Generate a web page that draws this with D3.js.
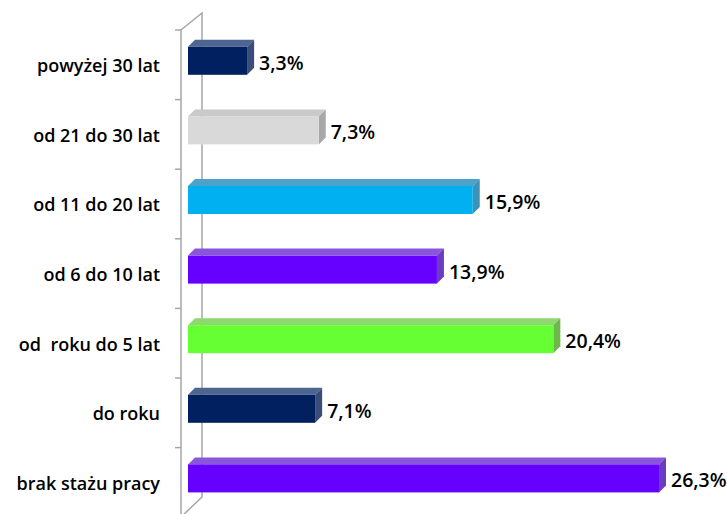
<!DOCTYPE html>
<html>
<head>
<meta charset="utf-8">
<script src="https://cdn.jsdelivr.net/npm/d3@7"></script>
<style>
  body { margin: 0; background: #fff; }
  svg { display: block; }
  .cat { font-family: "Open Sans", sans-serif; font-weight: 600; font-size: 18px; fill: #000; white-space: pre; }
  .val { font-family: "Open Sans", sans-serif; font-weight: 600; font-size: 19.5px; fill: #000; }
</style>
</head>
<body>
<div id="chart"></div>
<script>
// categories, top to bottom
const categories = ["powyżej 30 lat", "od 21 do 30 lat", "od 11 do 20 lat", "od 6 do 10 lat",
                    "od  roku do 5 lat", "do roku", "brak stażu pracy"];
const values = [3.3, 7.3, 15.9, 13.9, 20.4, 7.1, 26.3];
const valueLabels = ["3,3%", "7,3%", "15,9%", "13,9%", "20,4%", "7,1%", "26,3%"];
// front / top / side shades for each bar
const frontColors = ["#002060", "#d9d9d9", "#00b0f0", "#6600ff", "#66ff33", "#002060", "#6600ff"];
const topColors   = ["#4d6590", "#cacaca", "#4ba3c9", "#8a55dd", "#8ed870", "#4d6590", "#8a55dd"];
const sideColors  = ["#3a4d78", "#a8a8a8", "#3c92b8", "#6a3cc4", "#6cb84c", "#3a4d78", "#6a3cc4"];

const W = 727, H = 514;
const depthX = 7, depthY = 7;

const svg = d3.select("#chart").append("svg")
    .attr("width", W).attr("height", H);

const y = d3.scaleBand()
    .domain(categories)
    .range([30, 517.2]);

const x = d3.scaleLinear()
    .domain([0, 26.3])
    .range([188, 659]);

// 3D wall (vertical axis)
const wallX = 181, backX = 202;
const wall = svg.append("g").attr("stroke", "#a6a6a6").attr("stroke-width", 1.5).attr("fill", "none");
wall.append("path").attr("d", `M${wallX},30 L${backX},13 L${backX},497 L${wallX},${H + 3}`);
wall.append("line").attr("x1", wallX).attr("x2", wallX).attr("y1", 30).attr("y2", H + 3);
wall.selectAll("line.tick")
    .data(categories.concat(["_end"]))
    .join("line")
    .attr("class", "tick")
    .attr("x1", wallX - 6).attr("x2", wallX)
    .attr("y1", (d, i) => 30 + i * y.step())
    .attr("y2", (d, i) => 30 + i * y.step());

// bars
const bars = svg.selectAll("g.bar")
    .data(values)
    .join("g")
    .attr("class", "bar");

const barH = 28;
const top0 = (i) => y(categories[i]) + y.bandwidth() / 2 - 18;

bars.append("path") // top face
    .attr("fill", (d, i) => topColors[i])
    .attr("d", (d, i) => {
        const x0 = x(0), x1 = x(d), t = top0(i);
        return `M${x0},${t} L${x1},${t} L${x1 + depthX},${t - depthY} L${x0 + depthX},${t - depthY} Z`;
    });
bars.append("path") // side face
    .attr("fill", (d, i) => sideColors[i])
    .attr("d", (d, i) => {
        const x1 = x(d), t = top0(i);
        return `M${x1},${t} L${x1 + depthX},${t - depthY} L${x1 + depthX},${t + barH - depthY} L${x1},${t + barH} Z`;
    });
bars.append("rect") // front face
    .attr("fill", (d, i) => frontColors[i])
    .attr("x", x(0))
    .attr("y", (d, i) => top0(i))
    .attr("width", d => x(d) - x(0))
    .attr("height", barH);

// value labels
bars.append("text")
    .attr("class", "val")
    .attr("x", d => x(d) + depthX + 5)
    .attr("y", (d, i) => y(categories[i]) + y.bandwidth() / 2 - 2)
    .attr("dy", "0.36em")
    .text((d, i) => valueLabels[i]);

// category labels
svg.selectAll("text.cat")
    .data(categories)
    .join("text")
    .attr("class", "cat")
    .attr("text-anchor", "end")
    .attr("x", 160)
    .attr("y", d => y(d) + y.bandwidth() / 2 + 1)
    .attr("dy", "0.36em")
    .text(d => d);
</script>
</body>
</html>
